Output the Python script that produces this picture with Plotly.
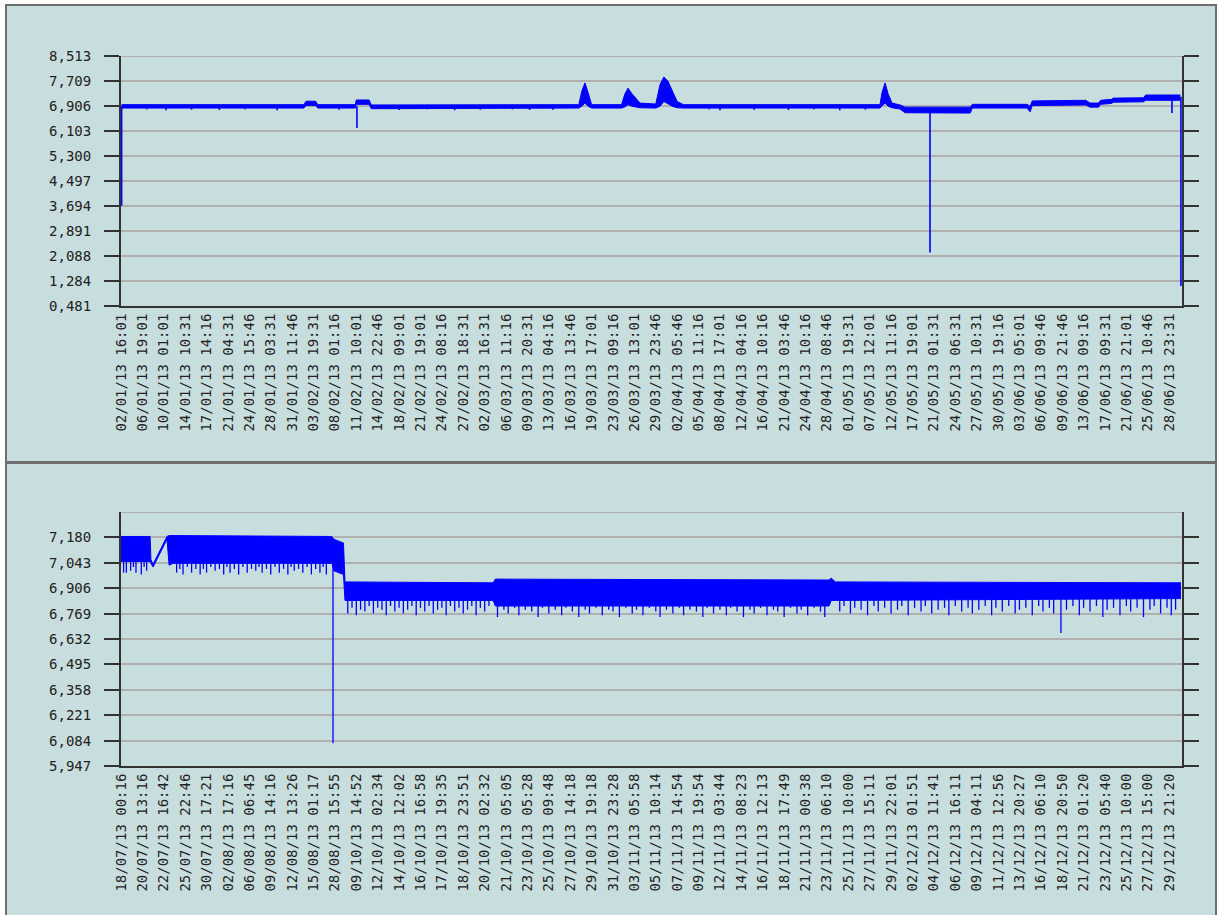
import plotly.graph_objects as go

BLUE = "#0000ff"
BG = "#c8dddd"
GRID = "#b0b0b0"
AXIS = "#333333"

# ---------------- tick labels ----------------
top_labels = [
    "02/01/13 16:01", "06/01/13 19:01", "10/01/13 01:01", "14/01/13 10:31", "17/01/13 14:16",
    "21/01/13 04:31", "24/01/13 15:46", "28/01/13 03:31", "31/01/13 11:46", "03/02/13 19:31",
    "08/02/13 01:16", "11/02/13 10:01", "14/02/13 22:46", "18/02/13 09:01", "21/02/13 19:01",
    "24/02/13 08:16", "27/02/13 18:31", "02/03/13 16:31", "06/03/13 11:16", "09/03/13 20:31",
    "13/03/13 04:16", "16/03/13 13:46", "19/03/13 17:01", "23/03/13 09:16", "26/03/13 13:01",
    "29/03/13 23:46", "02/04/13 05:46", "05/04/13 11:16", "08/04/13 17:01", "12/04/13 04:16",
    "16/04/13 10:16", "21/04/13 03:46", "24/04/13 10:16", "28/04/13 08:46", "01/05/13 19:31",
    "07/05/13 12:01", "12/05/13 11:16", "17/05/13 19:01", "21/05/13 01:31", "24/05/13 06:31",
    "27/05/13 10:31", "30/05/13 19:16", "03/06/13 05:01", "06/06/13 09:46", "09/06/13 21:46",
    "13/06/13 09:16", "17/06/13 09:31", "21/06/13 21:01", "25/06/13 10:46", "28/06/13 23:31",
]
bot_labels = [
    "18/07/13 00:16", "20/07/13 13:16", "22/07/13 16:42", "25/07/13 22:46", "30/07/13 17:21",
    "02/08/13 17:16", "06/08/13 06:45", "09/08/13 14:16", "12/08/13 13:26", "15/08/13 01:17",
    "28/08/13 15:55", "09/10/13 14:52", "12/10/13 02:34", "14/10/13 12:02", "16/10/13 16:58",
    "17/10/13 19:35", "18/10/13 23:51", "20/10/13 02:32", "21/10/13 05:05", "23/10/13 05:28",
    "25/10/13 09:48", "27/10/13 14:18", "29/10/13 19:18", "31/10/13 23:28", "03/11/13 05:58",
    "05/11/13 10:14", "07/11/13 14:54", "09/11/13 19:54", "12/11/13 03:44", "14/11/13 08:23",
    "16/11/13 12:13", "18/11/13 17:49", "21/11/13 00:38", "23/11/13 06:10", "25/11/13 10:00",
    "27/11/13 15:11", "29/11/13 22:01", "02/12/13 01:51", "04/12/13 11:41", "06/12/13 16:11",
    "09/12/13 04:11", "11/12/13 12:56", "13/12/13 20:27", "16/12/13 06:10", "18/12/13 20:50",
    "21/12/13 01:20", "23/12/13 05:40", "25/12/13 10:00", "27/12/13 15:00", "29/12/13 21:20",
]
top_yticks = [0.481, 1.284, 2.088, 2.891, 3.694, 4.497, 5.300, 6.103, 6.906, 7.709, 8.513]
top_yticktext = ["0,481", "1,284", "2,088", "2,891", "3,694", "4,497", "5,300", "6,103", "6,906", "7,709", "8,513"]
bot_yticks = [5.947, 6.084, 6.221, 6.358, 6.495, 6.632, 6.769, 6.906, 7.043, 7.180]
bot_yticktext = ["5,947", "6,084", "6,221", "6,358", "6,495", "6,632", "6,769", "6,906", "7,043", "7,180"]
TOP_RANGE = [0.481, 8.513]
BOT_RANGE = [5.947, 7.317]
X_RANGE = [0, 49.6]

# ---------------- top panel data (x in label-index units) ----------------
top_u = [0.03, 8.55, 8.65, 9.10, 9.20, 10.95, 11.00, 11.60, 11.70, 17.70, 21.40, 21.55, 21.69,
         21.83, 22.00, 23.40, 23.56, 23.70, 23.89, 24.26, 25.00, 25.20, 25.38, 25.57, 25.76,
         26.00, 26.30, 35.48, 35.58, 35.72, 35.86, 36.04, 36.42, 36.65, 39.70, 39.80, 42.35,
         42.50, 42.60, 45.10, 45.30, 45.70, 45.80, 46.30, 46.40, 47.80, 47.90, 49.52]
top_hi = [6.95, 6.95, 7.06, 7.06, 6.95, 6.95, 7.10, 7.10, 6.94, 6.94, 6.95, 7.40, 7.65,
          7.35, 6.95, 6.95, 7.30, 7.48, 7.30, 7.00, 6.97, 7.60, 7.84, 7.70, 7.40,
          7.05, 6.95, 6.95, 7.35, 7.65, 7.30, 7.00, 6.94, 6.87, 6.87, 6.96, 6.96,
          6.90, 7.07, 7.09, 7.00, 7.00, 7.09, 7.12, 7.16, 7.17, 7.26, 7.26]
top_lo = [6.84, 6.84, 6.92, 6.92, 6.84, 6.84, 6.96, 6.96, 6.82, 6.82, 6.84, 6.90, 7.00,
          6.90, 6.84, 6.84, 6.88, 6.95, 6.90, 6.85, 6.84, 6.90, 7.05, 6.98, 6.90,
          6.85, 6.84, 6.84, 6.90, 7.00, 6.90, 6.85, 6.81, 6.69, 6.68, 6.84, 6.84,
          6.72, 6.92, 6.94, 6.87, 6.87, 6.96, 6.99, 7.03, 7.04, 7.09, 7.09]
top_spike_u = [0.03, 11.03, 37.82, 49.13, 49.55, 2.1, 4.6, 7.3, 13.0, 15.6, 19.1, 28.0, 31.2, 33.6,
               1.2, 3.3, 5.8, 10.2, 14.3, 16.8, 18.3, 20.2, 27.5, 29.6, 32.4, 34.8]
top_spike_from = [6.90, 6.90, 6.80, 7.10, 7.20, 6.88, 6.88, 6.88, 6.88, 6.88, 6.88, 6.88, 6.88, 6.88,
                  6.88, 6.88, 6.88, 6.88, 6.88, 6.88, 6.88, 6.88, 6.88, 6.88, 6.88, 6.88]
top_spike_to = [3.70, 6.20, 2.20, 6.68, 1.12, 6.77, 6.78, 6.77, 6.78, 6.77, 6.78, 6.77, 6.78, 6.77,
                6.80, 6.79, 6.80, 6.79, 6.80, 6.79, 6.80, 6.79, 6.80, 6.79, 6.80, 6.79]

# ---------------- bottom panel data ----------------
bot_u = [0.0, 1.36, 1.40, 1.50, 2.15, 2.25, 2.43, 9.86, 9.95, 10.40, 10.47, 17.40, 17.50,
         33.10, 33.20, 33.40, 49.55]
bot_hi = [7.185, 7.185, 7.06, 7.035, 7.185, 7.19, 7.19, 7.185, 7.17, 7.15, 6.94, 6.935, 6.955,
          6.95, 6.96, 6.94, 6.935]
bot_lo = [7.05, 7.05, 7.04, 7.02, 7.17, 7.03, 7.04, 7.04, 7.00, 6.98, 6.84, 6.84, 6.81,
          6.81, 6.84, 6.84, 6.85]
bot_spike_u = [9.91, 43.94,
               0.12, 0.25, 0.45, 0.58, 0.70, 0.95, 1.08, 1.20, 2.60, 2.75, 2.90, 3.10, 3.30, 3.50,
               3.70, 3.85, 4.00, 4.20, 4.40, 4.60, 4.80, 4.95, 5.10, 5.30, 5.50, 5.70, 5.90,
               6.10, 6.30, 6.45, 6.60, 6.80, 7.00, 7.20, 7.40, 7.60, 7.80, 7.95, 8.10, 8.30,
               8.50, 8.70, 8.90, 9.10, 9.30, 9.45, 9.60,
               10.6, 10.8, 11.0, 11.2, 11.4, 11.6, 11.8, 12.0, 12.2, 12.4, 12.6, 12.8, 13.0,
               13.2, 13.4, 13.6, 13.8, 14.0, 14.2, 14.4, 14.6, 14.8, 15.0, 15.2, 15.4, 15.6,
               15.8, 16.0, 16.2, 16.4, 16.6, 16.8, 17.0, 17.2, 17.6, 17.9, 18.1, 18.4, 18.6,
               18.9, 19.2, 19.5, 19.7, 20.0, 20.3, 20.6, 20.8, 21.1, 21.4, 21.7, 21.9, 22.2,
               22.5, 22.8, 23.0, 23.3, 23.6, 23.9, 24.1, 24.4, 24.7, 25.0, 25.2, 25.5, 25.8,
               26.1, 26.3, 26.6, 26.9, 27.2, 27.4, 27.7, 28.0, 28.3, 28.5, 28.8, 29.1, 29.4,
               29.6, 29.9, 30.2, 30.5, 30.7, 31.0, 31.3, 31.6, 31.8, 32.1, 32.4, 32.7, 32.9,
               33.6, 33.8, 34.1, 34.3, 34.6, 34.9, 35.2, 35.4, 35.7, 36.0, 36.3, 36.5, 36.8,
               37.1, 37.4, 37.6, 37.9, 38.2, 38.5, 38.7, 39.0, 39.3, 39.6, 39.8, 40.1, 40.4,
               40.7, 40.9, 41.2, 41.5, 41.8, 42.0, 42.3, 42.6, 42.9, 43.1, 43.4, 43.6, 44.2,
               44.5, 44.8, 45.0, 45.3, 45.6, 45.9, 46.1, 46.4, 46.7, 47.0, 47.2, 47.5, 47.8,
               48.1, 48.3, 48.6, 48.9, 49.1, 49.3]
bot_spike_to = [6.07, 6.664,
                6.99, 6.99, 7.00, 7.02, 6.99, 6.98, 7.02, 7.00, 6.99, 7.01, 6.98, 7.02, 6.99, 7.01,
                6.98, 7.01, 6.99, 7.02, 7.00, 7.01, 6.98, 7.02, 6.99, 7.01, 6.98, 7.02, 6.99,
                7.01, 7.00, 7.02, 6.99, 7.01, 6.98, 7.02, 6.99, 7.01, 6.98, 7.02, 7.00, 7.01,
                6.99, 7.02, 6.98, 7.01, 6.99, 7.02, 6.98,
                6.77, 6.80, 6.76, 6.79, 6.78, 6.81, 6.77, 6.80, 6.79, 6.76, 6.81, 6.78, 6.80,
                6.77, 6.79, 6.81, 6.76, 6.80, 6.78, 6.81, 6.77, 6.79, 6.80, 6.76, 6.81, 6.78,
                6.80, 6.77, 6.79, 6.81, 6.76, 6.80, 6.78, 6.81, 6.75, 6.79, 6.77, 6.80, 6.76,
                6.79, 6.78, 6.75, 6.80, 6.77, 6.79, 6.76, 6.80, 6.78, 6.75, 6.79, 6.77, 6.80,
                6.76, 6.79, 6.78, 6.75, 6.80, 6.77, 6.79, 6.76, 6.80, 6.78, 6.75, 6.79, 6.77,
                6.80, 6.76, 6.79, 6.78, 6.75, 6.80, 6.77, 6.79, 6.76, 6.80, 6.78, 6.75, 6.79,
                6.77, 6.80, 6.76, 6.79, 6.78, 6.75, 6.80, 6.77, 6.79, 6.76, 6.80, 6.78, 6.75,
                6.78, 6.81, 6.77, 6.80, 6.79, 6.76, 6.81, 6.78, 6.80, 6.77, 6.79, 6.81, 6.76,
                6.80, 6.78, 6.81, 6.77, 6.79, 6.80, 6.76, 6.81, 6.78, 6.80, 6.77, 6.79, 6.81,
                6.76, 6.80, 6.78, 6.81, 6.77, 6.79, 6.80, 6.76, 6.81, 6.78, 6.80, 6.77, 6.79,
                6.81, 6.76, 6.80, 6.78, 6.81, 6.75, 6.79, 6.80, 6.76, 6.81, 6.78, 6.80, 6.75,
                6.79, 6.81, 6.77, 6.80, 6.76, 6.79]
bot_spike_from = [7.05, 6.85] + [7.08] * 47 + [6.88] * (len(bot_spike_u) - 49)


def spike_xy(us, y0s, y1s):
    xs, ys = [], []
    for u, a, b in zip(us, y0s, y1s):
        xs += [u, u, None]
        ys += [a, b, None]
    return xs, ys


fig = go.Figure()

# top band
fig.add_trace(go.Scatter(x=top_u, y=top_hi, mode="lines", line=dict(color=BLUE, width=1),
                         xaxis="x", yaxis="y", hoverinfo="skip", showlegend=False))
fig.add_trace(go.Scatter(x=top_u, y=top_lo, mode="lines", line=dict(color=BLUE, width=1),
                         fill="tonexty", fillcolor=BLUE,
                         xaxis="x", yaxis="y", hoverinfo="skip", showlegend=False))
sx, sy = spike_xy(top_spike_u, top_spike_from, top_spike_to)
fig.add_trace(go.Scatter(x=sx, y=sy, mode="lines", line=dict(color=BLUE, width=1.6),
                         xaxis="x", yaxis="y", hoverinfo="skip", showlegend=False))

# bottom band
fig.add_trace(go.Scatter(x=bot_u, y=bot_hi, mode="lines", line=dict(color=BLUE, width=1),
                         xaxis="x2", yaxis="y2", hoverinfo="skip", showlegend=False))
fig.add_trace(go.Scatter(x=bot_u, y=bot_lo, mode="lines", line=dict(color=BLUE, width=1),
                         fill="tonexty", fillcolor=BLUE,
                         xaxis="x2", yaxis="y2", hoverinfo="skip", showlegend=False))
sx, sy = spike_xy(bot_spike_u, bot_spike_from, bot_spike_to)
fig.add_trace(go.Scatter(x=sx, y=sy, mode="lines", line=dict(color=BLUE, width=1.3),
                         xaxis="x2", yaxis="y2", hoverinfo="skip", showlegend=False))

FONT = dict(family="DejaVu Sans Mono", size=14, color="#222222")


def px_x(px):
    return (px - 121) / 1061


def px_y(py):
    return (766 - py) / 710


yax_common = dict(showgrid=True, gridcolor=GRID, gridwidth=2, showline=True, linecolor=AXIS,
                  linewidth=2, mirror="ticks", ticks="outside", ticklen=15, tickwidth=2,
                  tickcolor=AXIS, zeroline=False, ticklabelstandoff=10, tickfont=FONT,
                  fixedrange=True)
xax_common = dict(range=X_RANGE, tickvals=list(range(50)), tickangle=-90, showgrid=False,
                  showline=True, linecolor=AXIS, linewidth=2, ticks="", zeroline=False,
                  tickfont=FONT, fixedrange=True)

fig.update_layout(
    width=1219, height=915,
    margin=dict(l=121, r=37, t=56, b=149),
    paper_bgcolor="white",
    plot_bgcolor="rgba(0,0,0,0)",
    font=FONT,
    showlegend=False,
    xaxis=dict(domain=[0, 1], anchor="y", ticktext=top_labels, **xax_common),
    yaxis=dict(domain=[px_y(306), 1.0], anchor="x", range=TOP_RANGE, tickvals=top_yticks,
               ticktext=top_yticktext, **yax_common),
    xaxis2=dict(domain=[0, 1], anchor="y2", ticktext=bot_labels, **xax_common),
    yaxis2=dict(domain=[0, px_y(512)], anchor="x2", range=BOT_RANGE, tickvals=bot_yticks,
                ticktext=bot_yticktext, **yax_common),
    shapes=[
        dict(type="rect", xref="paper", yref="paper", x0=px_x(6), x1=px_x(1216),
             y0=px_y(462), y1=px_y(5), fillcolor=BG, line=dict(color="#6e6e6e", width=2),
             layer="below"),
        dict(type="rect", xref="paper", yref="paper", x0=px_x(6), x1=px_x(1216),
             y0=px_y(930), y1=px_y(463), fillcolor=BG, line=dict(color="#6e6e6e", width=2),
             layer="below"),
        dict(type="line", xref="x2 domain", yref="y2", x0=0, x1=1, y0=BOT_RANGE[1],
             y1=BOT_RANGE[1], line=dict(color=GRID, width=2), layer="below"),
        dict(type="line", xref="x domain", yref="y", x0=0, x1=1, y0=TOP_RANGE[1],
             y1=TOP_RANGE[1], line=dict(color=GRID, width=2), layer="below"),
    ],
)

fig.write_html(
    "out.html",
    config={"displayModeBar": False},
    post_script="document.body.style.margin='0';document.body.style.overflow='hidden';",
)
